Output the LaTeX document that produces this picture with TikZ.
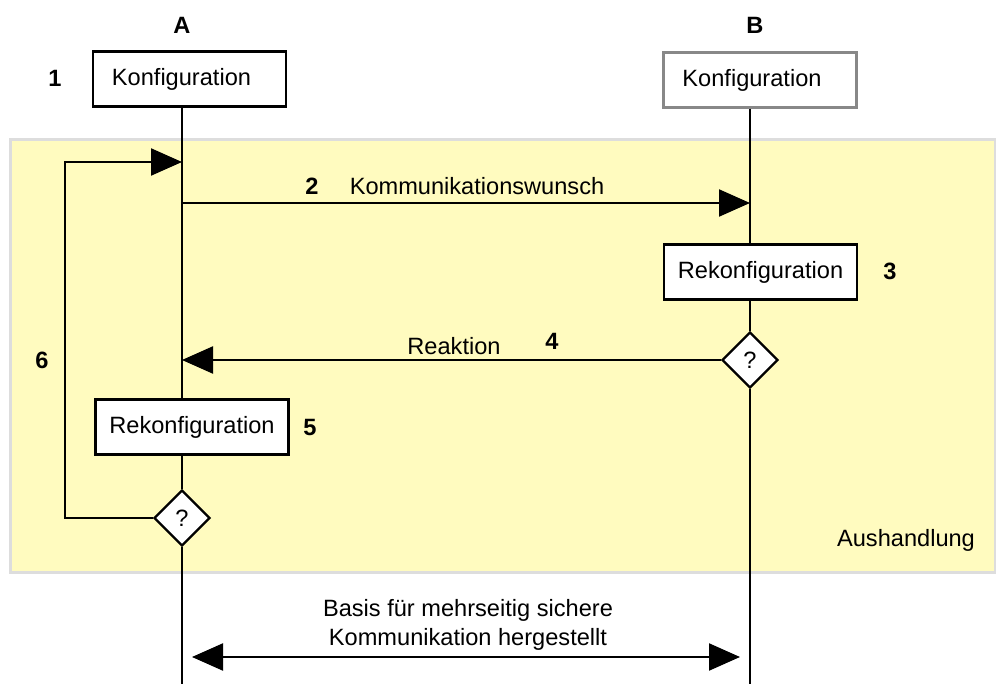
\documentclass[tikz,border=0pt]{standalone}
\usepackage{fontspec}
\setmainfont{Liberation Sans}
\usetikzlibrary{shapes.geometric,arrows.meta}
\definecolor{bandyellow}{RGB}{255,251,191}
\definecolor{bandgray}{RGB}{221,221,221}
\definecolor{boxgray}{RGB}{136,136,136}

\begin{document}
\begin{tikzpicture}[x=0.5pt, y=-0.5pt, line width=1.1pt,
    font=\fontsize{11.8}{14.5}\selectfont,
    stepbox/.style={draw, fill=white, minimum width=96.5pt,
                    minimum height=27.5pt, inner sep=0pt},
    decision/.style={draw, fill=white, diamond, aspect=1,
                     minimum size=28pt, inner sep=0pt},
    num/.style={font=\fontsize{11.8}{14.5}\selectfont\bfseries},
    msg/.style={-{Triangle[length=15.5pt,width=13.5pt]}}]
  \newcommand{\lifeA}{182}
  \newcommand{\lifeB}{750}
  \newcommand{\bottom}{684}

  \useasboundingbox (0,0) rectangle (996,684);

  % Draws the negotiation band
  \draw[bandgray, fill=bandyellow, line width=1.5pt] (10,140) rectangle (995,572);
  \node (aush) at (906,540) {Aushandlung};

  % Coordinates on the two lifelines
  \coordinate (endA) at (\lifeA, \bottom);
  \coordinate (endB) at (\lifeB, \bottom);
  \coordinate (sendA) at (\lifeA, 203);
  \coordinate (sendB) at (\lifeB, 203);
  \coordinate (hereA) at (\lifeA, 360);
  \coordinate (loopA) at (\lifeA, 162);
  \coordinate (corner) at (65, 162);
  \coordinate (basisA) at (\lifeA+10, 657);
  \coordinate (basisB) at (\lifeB-10, 657);

  % Draws the parties and their steps
  \node[num] (labA) at (\lifeA, 25) {A};
  \node[num] (labB) at (\lifeB+5, 25) {B};
  \node[stepbox] (konfA) at (189.5, 79) {Konfiguration\hspace*{8pt}};
  \node[stepbox, draw=boxgray] (konfB) at (760, 80) {Konfiguration\hspace*{8pt}};
  \node[num] (one) at (55, 78) {1};
  \node[stepbox] (rekonfB) at (760.5, 272) {Rekonfiguration};
  \node[num] (three) at (890, 271) {3};
  \node[decision] (askB) at (\lifeB, 360) {?};
  \node[stepbox] (rekonfA) at (192, 427) {Rekonfiguration};
  \node[num] (five) at (310, 427) {5};
  \node[decision] (askA) at (\lifeA, 518) {?};
  \node[num] (six) at (42, 360) {6};

  % Draws the lifelines
  \draw (konfA.south -| endA) -- (rekonfA.north -| endA);
  \draw (rekonfA.south -| endA) -- (askA.north);
  \draw (askA.south) -- (endA);
  \draw (konfB.south -| endB) -- (rekonfB.north -| endB);
  \draw (rekonfB.south -| endB) -- (askB.north);
  \draw (askB.south) -- (endB);

  % Draws the messages
  \draw[msg] (sendA) -- (sendB);
  \node[num] (two) at (312, 186) {2};
  \node (wunsch) at (477, 186) {Kommunikationswunsch};
  \draw[msg] (askB.west) -- (hereA);
  \node (reakt) at (454, 346) {Reaktion};
  \node[num] (four) at (552, 341) {4};
  \draw[msg] (askA.west) -| (corner) -- (loopA);

  % Draws the result arrow
  \draw[{Triangle[length=15.5pt,width=13.5pt]}-{Triangle[length=15.5pt,width=13.5pt]}]
       (basisA) -- (basisB);
  \node[align=center] (basis) at (468, 625)
       {Basis für mehrseitig sichere\\Kommunikation hergestellt};
\end{tikzpicture}
\end{document}
